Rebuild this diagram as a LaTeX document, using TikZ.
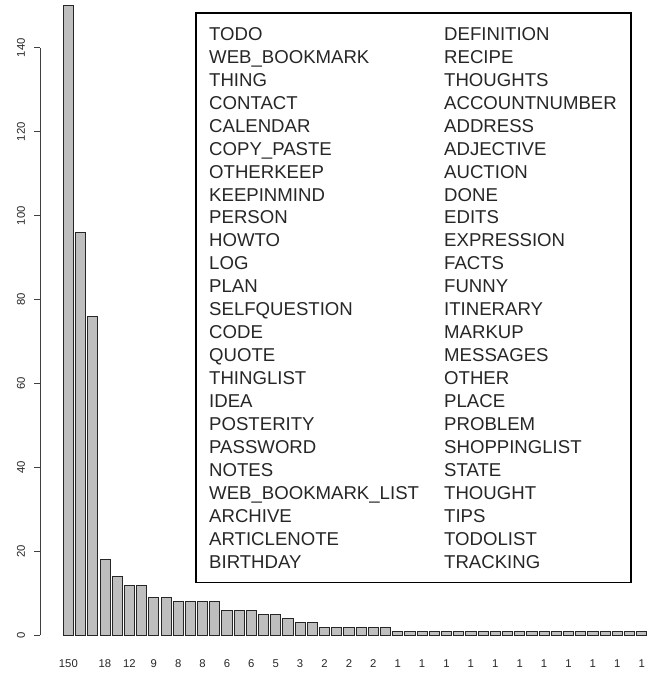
\documentclass[tikz,border=0pt]{standalone}
\usepackage{fontspec}
\setmainfont{Liberation Sans}
\definecolor{barfill}{HTML}{BEBEBE}
\begin{document}
\begin{tikzpicture}[x=1pt,y=-1pt,
  barbox/.style={fill=barfill,draw=black!85,line width=0.75pt},
  axisline/.style={draw=black!75,line width=0.6pt},
  ticklab/.style={inner sep=0pt,font=\fontsize{11.3}{12}\selectfont,text=black!85},
  legtext/.style={inner sep=0pt,anchor=base west,font=\fontsize{18.6}{20}\selectfont,text=black!85},
  legbox/.style={draw=black,line width=1.6pt}]
\useasboundingbox (0,0) rectangle (651,673);
% bars
\foreach \h [count=\k] in {150,96,76,18,14,12,12,9,9,8,8,8,8,6,6,6,5,5,4,3,3,2,2,2,2,2,2,1,1,1,1,1,1,1,1,1,1,1,1,1,1,1,1,1,1,1,1,1}{
  \pgfmathsetmacro\xl{63.3+(\k-1)*12.197}
  \pgfmathsetmacro\xr{\xl+10.164}
  \pgfmathsetmacro\yt{635.3-\h*4.197}
  \draw[barbox] (\xl,635.3) rectangle (\xr,\yt);
  \pgfmathtruncatemacro\odd{mod(\k,2)}
  \ifnum\k=1
    \node[ticklab] (xl\k) at ({\xl+5.082},663.5) {\h};
  \else\ifnum\k>3 \ifnum\odd=0
    \node[ticklab] (xl\k) at ({\xl+5.082},663.5) {\h};
  \fi\fi\fi
}
% y axis
\coordinate (ya) at (40,635.3);
\coordinate (yb) at (40,47.7);
\draw[axisline] (ya) -- (yb);
\foreach \v in {0,20,...,140}{
  \pgfmathsetmacro\yy{635.3-\v*4.197}
  \coordinate (t\v) at (40,\yy);
  \coordinate (u\v) at (33.5,\yy);
  \draw[axisline] (t\v) -- (u\v);
  \node[ticklab,rotate=90] (yl\v) at (21,\yy) {\v};
}
% legend
\node[legbox,minimum width=435pt,minimum height=569.4pt,inner sep=0pt,anchor=north west] (leg) at (195,12.3) {};
\foreach \a/\b [count=\i from 0] in {TODO/DEFINITION,WEB\_BOOKMARK/RECIPE,THING/THOUGHTS,CONTACT/ACCOUNTNUMBER,CALENDAR/ADDRESS,COPY\_PASTE/ADJECTIVE,OTHERKEEP/AUCTION,KEEPINMIND/DONE,PERSON/EDITS,HOWTO/EXPRESSION,LOG/FACTS,PLAN/FUNNY,SELFQUESTION/ITINERARY,CODE/MARKUP,QUOTE/MESSAGES,THINGLIST/OTHER,IDEA/PLACE,POSTERITY/PROBLEM,PASSWORD/SHOPPINGLIST,NOTES/STATE,WEB\_BOOKMARK\_LIST/THOUGHT,ARCHIVE/TIPS,ARTICLENOTE/TODOLIST,BIRTHDAY/TRACKING}{
  \node[legtext] (la\i) at (209,{40.3+\i*22.96}) {\a};
  \node[legtext] (lb\i) at (444,{40.3+\i*22.96}) {\b};
}
\end{tikzpicture}
\end{document}
